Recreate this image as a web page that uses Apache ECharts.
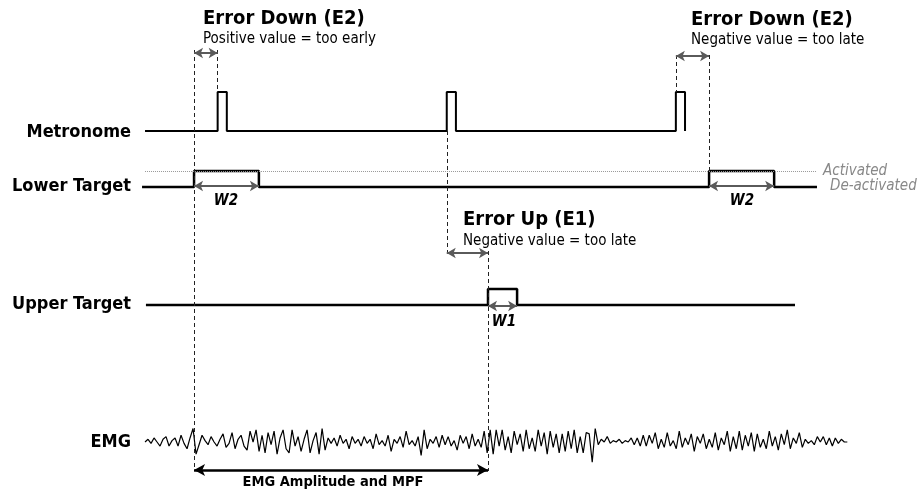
<!DOCTYPE html>
<html>
<head>
<meta charset="utf-8">
<script src="https://cdn.jsdelivr.net/npm/echarts@6/dist/echarts.min.js"></script>
<style>html,body{margin:0;padding:0;background:#fff}#c{width:921px;height:498px}</style>
</head>
<body>
<div id="c"></div>
<script>
// ---- data (time in ms relative to first metronome beat) ----
const rowLabels = ['Metronome', 'Lower Target', 'Upper Target', 'EMG'];
const metronomeOnsets = [0, 1000, 2000];
const metronomePulseMs = 40;
const metronomeSpan = [-317, 2040];
const lowerTargetWindows = [[-103, 180], [2145, 2429]];
const lowerTargetSpan = [-330, 2616];
const upperTargetWindows = [[1180, 1307]];
const upperTargetSpan = [-313, 2520];
const emgStartMs = -317;
const emgStepMs = 13.1;
const emgValues = [
  0,2,-1,3,0,-3,2,4,-3,1,
  3,-3,5,-1,-5,3,10,-9,-2,5,
  1,-2,4,0,-3,2,6,-4,-1,7,
  -5,2,5,-3,-6,8,0,9,-7,5,
  -8,7,-2,8,-9,3,9,-5,-8,9,
  -3,4,-7,2,9,-8,1,7,-9,10,
  -6,3,-1,3,-3,5,-1,2,-5,4,
  -1,2,-3,4,-1,2,-5,6,-2,1,
  -3,5,-7,2,-1,4,-4,8,-2,1,
  -3,4,-10,9,-5,2,-1,4,-4,5,
  -2,4,-3,1,-6,5,-1,4,-5,6,
  -3,2,-4,8,-8,9,-9,9,-3,9,
  -6,4,-8,8,-2,6,-7,9,-5,3,
  -7,9,-3,7,-9,8,-4,6,-8,6,
  -7,8,-5,9,-8,4,-8,7,6,-15,
  10,-2,2,0,4,-1,1,0,2,-1,
  1,0,3,-2,3,-3,5,-3,5,-1,
  7,-5,2,-4,7,-3,1,-5,8,-4,
  3,-2,6,-7,4,-1,6,-5,2,-4,
  7,-6,3,-2,8,-7,4,-5,8,-6,
  5,-3,7,-7,6,-4,2,-5,8,-3,
  4,-6,6,-2,9,-5,3,-1,7,-4,
  2,-1,1,-2,4,0,4,-2,3,-3,
  3,-1,2,0,0
];
const errorDownEarly = [-103, 0];
const errorUp = [1000, 1180];
const errorDownLate = [2000, 2145];
const emgWindow = [-103, 1180];

// ---- layout (vertical layout units; axis inverted) ----
const timeMin = -950, timeMax = 3070;
const rows = {
  metronome: { base: 131, amp: 39 },
  lower: { base: 187, amp: 16 },
  upper: { base: 305, amp: 16 },
  emg: { base: 442, amp: 1.35 }
};
const FF = '"DejaVu Sans Condensed", "DejaVu Sans", sans-serif';

function pulseTrace(span, windows, row) {
  const pts = [[span[0], row.base]];
  windows.forEach(w => {
    pts.push([w[0], row.base], [w[0], row.base - row.amp], [w[1], row.base - row.amp], [w[1], row.base]);
  });
  pts.push([span[1], row.base]);
  return pts;
}
const metronomeData = pulseTrace(metronomeSpan, metronomeOnsets.map(t => [t, t + metronomePulseMs]), rows.metronome);
const lowerData = pulseTrace(lowerTargetSpan, lowerTargetWindows, rows.lower);
const upperData = pulseTrace(upperTargetSpan, upperTargetWindows, rows.upper);
const emgData = emgValues.map((v, i) => [emgStartMs + i * emgStepMs, rows.emg.base - v * rows.emg.amp]);

function vline(t, y1, y2) { return [{ coord: [t, y1] }, { coord: [t, y2] }]; }
function hline(t1, t2, y) { return [{ coord: [t1, y] }, { coord: [t2, y] }]; }

const dashed = [
  vline(errorDownEarly[0], 50, 471),
  vline(errorDownEarly[1], 50, rows.metronome.base - rows.metronome.amp),
  vline(errorUp[0], rows.metronome.base, 255),
  vline(errorUp[1], 251, 471),
  vline(errorDownLate[0], 55, rows.metronome.base - rows.metronome.amp),
  vline(errorDownLate[1], 55, rows.lower.base - rows.lower.amp)
];
const greyArrows = [
  hline(errorDownEarly[0], errorDownEarly[1], 53),
  hline(errorDownLate[0], errorDownLate[1], 56),
  hline(errorUp[0], errorUp[1], 253),
  hline(lowerTargetWindows[0][0], lowerTargetWindows[0][1], 186),
  hline(lowerTargetWindows[1][0], lowerTargetWindows[1][1], 186),
  hline(upperTargetWindows[0][0], upperTargetWindows[0][1], 306)
];

function txt(text, x, y, size, weight, align, opts) {
  opts = opts || {};
  return {
    type: 'text', x: x, y: y, silent: true,
    style: {
      text: text,
      font: (opts.italic ? 'italic ' : '') + weight + ' ' + size + 'px ' + FF,
      fill: opts.fill || '#000',
      textAlign: align,
      textVerticalAlign: 'middle'
    }
  };
}

const chart = echarts.init(document.getElementById('c'), null, { renderer: 'canvas' });
chart.setOption({
  animation: false,
  backgroundColor: '#fff',
  grid: { left: 0, right: 0, top: 0, bottom: 0 },
  xAxis: { type: 'value', min: timeMin, max: timeMax, show: false },
  yAxis: { type: 'value', min: 0, max: 498, inverse: true, show: false },
  series: [
    {
      type: 'line', data: [], silent: true,
      markLine: {
        silent: true, symbol: 'none', animation: false,
        label: { show: false },
        lineStyle: { color: '#222', width: 1, type: [4, 3] },
        data: dashed
      }
    },
    {
      type: 'line', data: [], silent: true,
      markLine: {
        silent: true, symbol: 'none', animation: false,
        label: { show: false },
        lineStyle: { color: '#999', width: 1, type: [1, 1] },
        data: [hline(lowerTargetSpan[0] + 13, lowerTargetSpan[1], rows.lower.base - rows.lower.amp)]
      }
    },
    {
      type: 'line', data: [], silent: true,
      markLine: {
        silent: true, symbol: ['arrow', 'arrow'], symbolSize: [8, 9], animation: false,
        label: { show: false },
        lineStyle: { color: '#5a5a5a', width: 2, type: 'solid' },
        data: greyArrows
      }
    },
    {
      type: 'line', data: [], silent: true,
      markLine: {
        silent: true, symbol: ['arrow', 'arrow'], symbolSize: [9, 11], animation: false,
        label: { show: false },
        lineStyle: { color: '#000', width: 2.5, type: 'solid' },
        data: [hline(emgWindow[0], emgWindow[1], 470)]
      }
    },
    { type: 'line', data: metronomeData, showSymbol: false, lineStyle: { color: '#000', width: 2 }, silent: true },
    { type: 'line', data: lowerData, showSymbol: false, lineStyle: { color: '#000', width: 2.5 }, silent: true },
    { type: 'line', data: upperData, showSymbol: false, lineStyle: { color: '#000', width: 2.5 }, silent: true },
    { type: 'line', data: emgData, showSymbol: false, lineStyle: { color: '#000', width: 1.2 }, silent: true }
  ],
  graphic: [
    txt(rowLabels[0], 131, 132, 18, 'bold', 'right'),
    txt(rowLabels[1], 131, 186, 18, 'bold', 'right'),
    txt(rowLabels[2], 131, 304, 18, 'bold', 'right'),
    txt(rowLabels[3], 131, 442, 18, 'bold', 'right'),
    txt('Error Down (E2)', 203, 19, 20, 'bold', 'left'),
    txt('Positive value = too early', 203, 39, 15, 'normal', 'left'),
    txt('Error Down (E2)', 691, 20, 20, 'bold', 'left'),
    txt('Negative value = too late', 691, 40, 15, 'normal', 'left'),
    txt('Error Up (E1)', 463, 220, 20, 'bold', 'left'),
    txt('Negative value = too late', 463, 241, 15, 'normal', 'left'),
    txt('W2', 226, 201, 15, 'bold', 'center', { italic: true }),
    txt('W2', 742, 201, 15, 'bold', 'center', { italic: true }),
    txt('W1', 504, 322, 15, 'bold', 'center', { italic: true }),
    txt('Activated', 823, 171, 15, 'normal', 'left', { italic: true, fill: '#888' }),
    txt('De-activated', 830, 186, 15, 'normal', 'left', { italic: true, fill: '#888' }),
    txt('EMG Amplitude and MPF', 333, 482, 14.5, 'bold', 'center')
  ]
});
</script>
</body>
</html>
